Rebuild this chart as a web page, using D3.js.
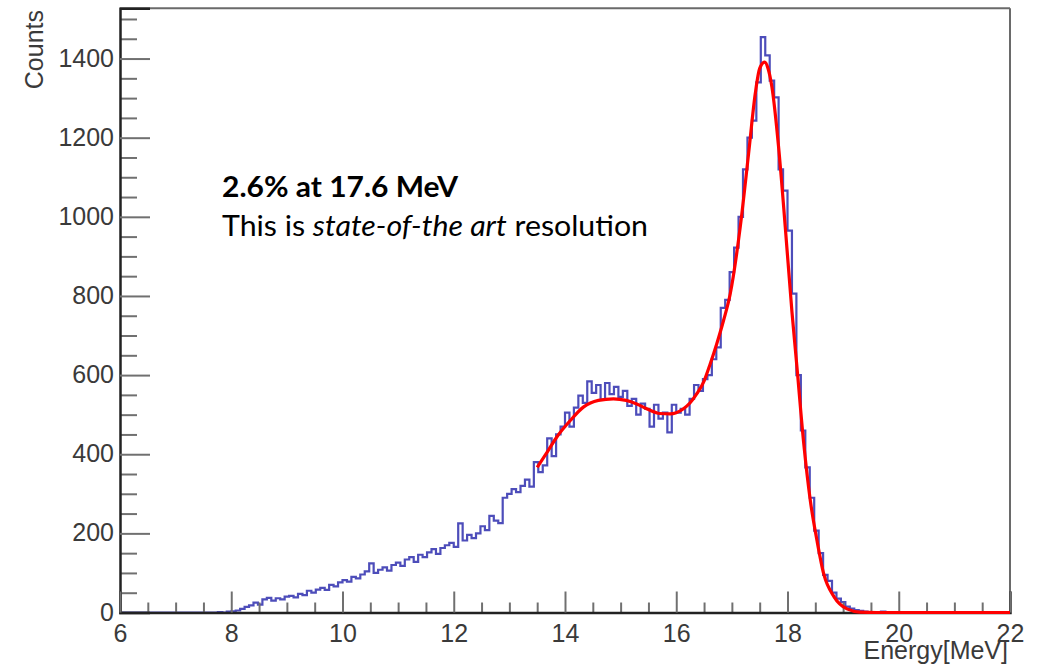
<!DOCTYPE html>
<html>
<head>
<meta charset="utf-8">
<script src="https://cdn.jsdelivr.net/npm/d3@7"></script>
<style>
  html, body { margin: 0; padding: 0; background: #ffffff; }
  svg { display: block; }
</style>
</head>
<body>
<svg id="chart" width="1041" height="665"></svg>
<script>
// ---------------- DATA ----------------
// Histogram: 200 bins of 0.08 MeV from 6 to 22 MeV (counts per bin)
const binStart = 6.0;
const binWidth = 0.08;
const counts = [
  0,0,0,0,0,0,0,0,0,0,            // 6.00 - 6.72
  0,0,0,0,0,0,0,0,0,0,            // 6.80 - 7.52
  0,0,1,0,2,3,5,9,14,18,          // 7.60 - 8.32
  25,20,33,37,30,36,33,40,42,38,  // 8.40 - 9.12
  47,44,55,50,58,62,57,70,66,76,  // 9.20 - 9.92
  82,78,90,86,96,104,124,100,108,114, // 10.00 - 10.72
  106,120,126,118,134,140,128,146,140,152, // 10.80 - 11.52
  160,148,163,170,176,166,225,182,196,188, // 11.60 - 12.32
  200,218,208,244,232,226,290,300,312,304, // 12.40 - 13.12
  320,336,318,380,355,372,440,395,450,470, // 13.20 - 13.92
  505,470,518,548,530,584,555,575,538,580, // 14.00 - 14.72
  552,570,545,560,522,540,500,528,515,470, // 14.80 - 15.52
  525,490,505,455,525,505,515,500,540,575, // 15.60 - 16.32
  560,590,600,640,670,770,790,860,922,1000, // 16.40 - 17.12
  1120,1200,1243,1340,1454,1408,1344,1302,1120,1066, // 17.20 - 17.92
  965,806,600,460,367,290,207,150,95,80, // 18.00 - 18.72
  50,35,26,15,10,6,4,2,0,1,       // 18.80 - 19.52
  0,2,1,0,0,1,0,0,0,0,            // 19.60 - 20.32
  0,0,0,0,0,0,0,0,0,0,            // 20.40 - 21.12
  0,0,0,0,0,0,0,0,0,0             // 21.20 - 21.92
];

// Fit curve (energy in MeV, counts)
const fitEnergy = [13.5, 13.7, 13.85, 14.1, 14.33, 14.6, 14.87, 15.1, 15.29, 15.5, 15.7, 15.89, 16.0, 16.13, 16.25, 16.37, 16.5, 16.61, 16.73, 16.85, 16.97, 17.15, 17.3, 17.42, 17.5, 17.59, 17.65, 17.72, 17.84, 17.96, 18.08, 18.17, 18.29, 18.41, 18.53, 18.65, 18.84, 19.07, 19.3, 19.6, 22.0];
const fitCounts = [367, 410, 443, 486, 519, 536, 540, 536, 527, 513, 503, 502, 505, 515, 530, 553, 585, 628, 680, 738, 805, 974, 1159, 1311, 1375, 1391, 1375, 1328, 1176, 974, 760, 620, 430, 283, 182, 98, 39, 9, 1, 0, 0];

// Axes
const xDomain = [6, 22];
const yDomain = [0, 1527];
const xMajorTicks = [6, 8, 10, 12, 14, 16, 18, 20, 22];
const yMajorTicks = [0, 200, 400, 600, 800, 1000, 1200, 1400];
const xTitle = "Energy[MeV]";
const yTitle = "Counts";
const noteTitle = "2.6% at 17.6 MeV";
const notePre = "This is ";
const noteItalic = "state-of-the art";
const notePost = " resolution";

// ---------------- DRAW ----------------
const svg = d3.select("#chart");
const x = d3.scaleLinear().domain(xDomain).range([120, 1010]);
const y = d3.scaleLinear().domain(yDomain).range([612.5, 8.3]);

const xMinorTicks = d3.range(6, 22.001, 0.5).filter(v => Math.abs(v / 2 - Math.round(v / 2)) > 1e-6);
const yMinorTicks = d3.range(0, 1527, 50).filter(v => v % 200 !== 0);

const fontFam = "'Liberation Sans', Arial, sans-serif";
const noteFont = "Lato, 'Open Sans', sans-serif";
const textCol = "#3a3a3a";
const tickCol = "#707070";

// frame (top/right)
svg.append("line").attr("x1", x(6)).attr("x2", x(22)).attr("y1", y(yDomain[1])).attr("y2", y(yDomain[1]))
  .attr("stroke", "#6a6a6a").attr("stroke-width", 2);
svg.append("line").attr("x1", x(22)).attr("x2", x(22)).attr("y1", y(yDomain[1])).attr("y2", y(0))
  .attr("stroke", "#6a6a6a").attr("stroke-width", 2);

// histogram step path
const histPts = [];
counts.forEach((c, i) => {
  const e0 = binStart + i * binWidth, e1 = e0 + binWidth;
  histPts.push([x(e0), y(c)], [x(e1), y(c)]);
});
svg.append("path")
  .attr("d", d3.line()(histPts))
  .attr("fill", "none")
  .attr("stroke", "#3a3ab2")
  .attr("stroke-width", 2.2)
  .attr("stroke-opacity", 0.9);

// minor ticks
const yMinor = svg.append("g").attr("transform", `translate(${x(6)},0)`)
  .call(d3.axisLeft(y).tickValues(yMinorTicks).tickSize(-17).tickFormat(""));
const xMinor = svg.append("g").attr("transform", `translate(0,${y(0)})`)
  .call(d3.axisBottom(x).tickValues(xMinorTicks).tickSize(-10).tickFormat(""));
[yMinor, xMinor].forEach(g => {
  g.select(".domain").remove();
  g.selectAll(".tick line").attr("stroke", tickCol).attr("stroke-width", 2);
});

// major axes
const yAxis = svg.append("g").attr("transform", `translate(${x(6)},0)`)
  .call(d3.axisLeft(y).tickValues(yMajorTicks).tickSize(-30).tickPadding(6).tickFormat(d3.format("d")));
const xAxis = svg.append("g").attr("transform", `translate(0,${y(0)})`)
  .call(d3.axisBottom(x).tickValues(xMajorTicks).tickSize(-21).tickPadding(12).tickFormat(d3.format("d")));
[yAxis, xAxis].forEach(g => {
  g.selectAll(".tick line").attr("stroke", tickCol).attr("stroke-width", 2);
  g.selectAll(".tick text").attr("fill", textCol).style("font-family", fontFam).style("font-size", "25px");
  g.select(".domain").attr("stroke", "#222").attr("stroke-width", 2.5);
});
yAxis.selectAll(".tick text").attr("dy", "0.3em");

// fit curve
const fitPts = fitEnergy.map((e, i) => [x(e), y(fitCounts[i])]);
svg.append("path")
  .attr("d", d3.line().curve(d3.curveMonotoneX)(fitPts))
  .attr("fill", "none")
  .attr("stroke", "#ff0000")
  .attr("stroke-width", 3.2);

// axis titles
svg.append("text")
  .attr("transform", "translate(43,10) rotate(-90)")
  .attr("text-anchor", "end")
  .attr("fill", textCol)
  .style("font-family", fontFam).style("font-size", "25px")
  .text(yTitle);
svg.append("text")
  .attr("x", 1008).attr("y", 659)
  .attr("text-anchor", "end")
  .attr("fill", textCol)
  .style("font-family", fontFam).style("font-size", "25px")
  .text(xTitle);

// annotation
svg.append("text")
  .attr("x", 222).attr("y", 197)
  .attr("fill", "#000")
  .attr("textLength", 236).attr("lengthAdjust", "spacingAndGlyphs")
  .style("font-family", noteFont).style("font-size", "28px").style("font-weight", "bold")
  .text(noteTitle);
const note = svg.append("text")
  .attr("x", 222).attr("y", 236)
  .attr("fill", "#000")
  .attr("textLength", 426).attr("lengthAdjust", "spacingAndGlyphs")
  .style("font-family", noteFont).style("font-size", "28px");
note.append("tspan").text(notePre);
note.append("tspan").style("font-style", "italic").text(noteItalic);
note.append("tspan").text(notePost);
</script>
</body>
</html>
